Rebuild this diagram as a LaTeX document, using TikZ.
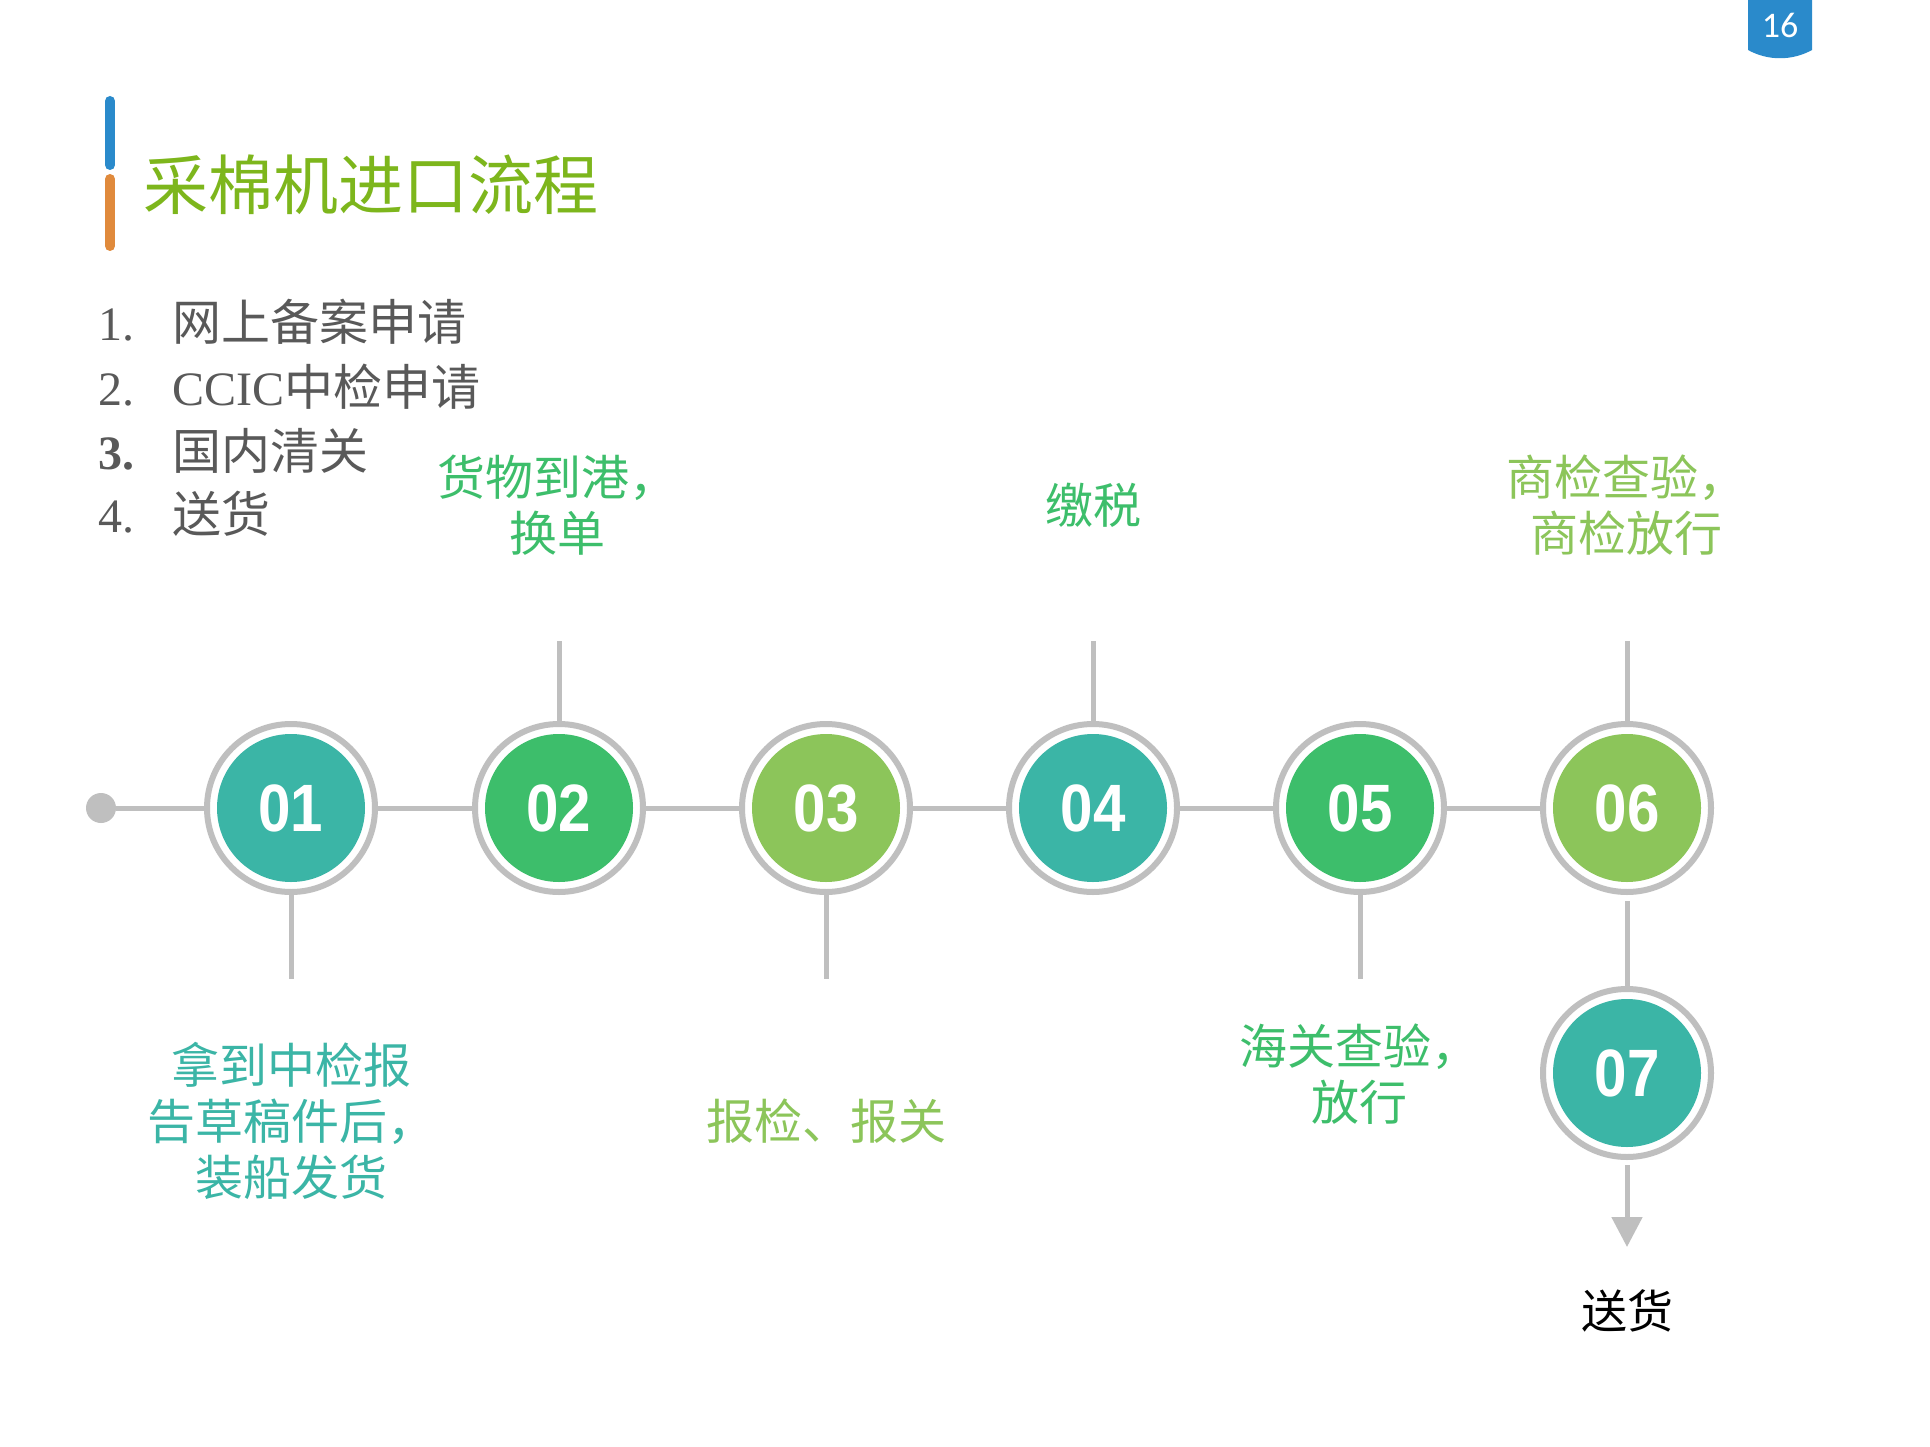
\documentclass[tikz,border=0pt]{standalone}
\usepackage{fontspec}
\setmainfont{Liberation Serif}
\newfontfamily\cjk{Noto Sans CJK SC}
\newfontfamily\numfont{Liberation Sans}
\newfontfamily\badgefont{Carlito}
\usetikzlibrary{arrows.meta}
\definecolor{cteal}{HTML}{3BB5A6}
\definecolor{cgreen}{HTML}{3DBE6B}
\definecolor{clight}{HTML}{8CC55A}
\definecolor{cgray}{HTML}{BFBFBF}
\definecolor{ctitle}{HTML}{7DB61C}
\definecolor{cblue}{HTML}{2A8ACB}
\definecolor{corange}{HTML}{E08A3C}
\definecolor{ctext}{HTML}{595959}
\tikzset{
  ring/.style={circle, draw=cgray, line width=6pt, fill=white, minimum size=168pt, inner sep=0pt},
  disc/.style={circle, fill=#1, minimum size=148pt, inner sep=0pt, text=white,
    font=\numfont\bfseries\fontsize{67}{67}\selectfont},
  conn/.style={draw=cgray, line width=5pt},
  lab/.style={font=\cjk\fontsize{48}{56}\selectfont, align=center, inner sep=0pt},
  listnum/.style={font=\fontsize{48}{48}\selectfont, text=ctext, inner sep=0pt, anchor=base west},
  listtxt/.style={font=\cjk\fontsize{49}{49}\selectfont, text=ctext, inner sep=0pt, anchor=base west}
}
\begin{document}
\begin{tikzpicture}[x=1pt,y=-1pt]
\useasboundingbox[fill=white] (0,0) rectangle (1930,1447);

% page badge
\path[fill=cblue] (1748,0) -- (1748,50) .. controls (1768,61) and (1792,61) .. (1812,50) -- (1812,0) -- cycle;
\node[text=white, font=\badgefont\fontsize{36}{36}\selectfont, inner sep=0pt] (badge) at (1780,25) {16};

% title bar
\draw[cblue, line width=10pt, line cap=round] (110,101) -- (110,165);
\draw[corange, line width=10pt, line cap=round] (110,179) -- (110,246);
\node[anchor=west, text=ctitle, font=\cjk\fontsize{65}{65}\selectfont, inner sep=0pt] (title) at (143,185) {采棉机进口流程};

% list
\node[listnum] (n1) at (98,341) {1.};
\node[listtxt] (i1) at (172,341) {网上备案申请};
\node[listnum] (n2) at (98,405) {2.};
\node[listtxt] (i2) at (172,405) {{\rmfamily\fontsize{48}{48}\selectfont CCIC}中检申请};
\node[listnum, font=\bfseries\fontsize{48}{48}\selectfont] (n3) at (98,469) {3.};
\node[listtxt] (i3) at (172,469) {国内清关};
\node[listnum] (n4) at (98,532) {4.};
\node[listtxt] (i4) at (172,532) {送货};

% timeline nodes
\node[circle, fill=cgray, minimum size=30pt, inner sep=0pt] (dot) at (101,808) {};
\node[ring] (c1) at (291,808) {};
\node[ring] (c2) at (559,808) {};
\node[ring] (c3) at (826,808) {};
\node[ring] (c4) at (1093,808) {};
\node[ring] (c5) at (1360,808) {};
\node[ring] (c6) at (1627,808) {};
\node[ring] (c7) at (1627,1073) {};

\node[disc=cteal]  (d1) at (c1) {\scalebox{0.87}[1]{01}};
\node[disc=cgreen] (d2) at (c2) {\scalebox{0.87}[1]{02}};
\node[disc=clight] (d3) at (c3) {\scalebox{0.87}[1]{03}};
\node[disc=cteal]  (d4) at (c4) {\scalebox{0.87}[1]{04}};
\node[disc=cgreen] (d5) at (c5) {\scalebox{0.87}[1]{05}};
\node[disc=clight] (d6) at (c6) {\scalebox{0.87}[1]{06}};
\node[disc=cteal]  (d7) at (c7) {\scalebox{0.87}[1]{07}};

% connectors
\draw[conn] (dot) -- (c1);
\draw[conn] (c1) -- (c2);
\draw[conn] (c2) -- (c3);
\draw[conn] (c3) -- (c4);
\draw[conn] (c4) -- (c5);
\draw[conn] (c5) -- (c6);
\draw[conn, shorten <=6pt] (c6) -- (c7);

\coordinate (t1) at (291,979);
\coordinate (t2) at (559,641);
\coordinate (t3) at (826,979);
\coordinate (t4) at (1093,641);
\coordinate (t5) at (1360,979);
\coordinate (t6) at (1627,641);
\coordinate (tend) at (1627,1247);
\draw[conn] (c1) -- (t1);
\draw[conn] (c2) -- (t2);
\draw[conn] (c3) -- (t3);
\draw[conn] (c4) -- (t4);
\draw[conn] (c5) -- (t5);
\draw[conn] (c6) -- (t6);
\draw[conn, shorten <=5pt, -{Triangle[width=30pt,length=30pt]}] (c7) -- (tend);

% labels
\node[lab, text=cteal]  (l1) at (291,1121) {拿到中检报\\告草稿件后，\\装船发货};
\node[lab, text=cgreen] (l2) at (557,505) {货物到港，\\换单};
\node[lab, text=clight] (l3) at (826,1121) {报检、报关};
\node[lab, text=cgreen] (l4) at (1093,505) {缴税};
\node[lab, text=cgreen] (l5) at (1359,1074) {海关查验，\\放行};
\node[lab, text=clight] (l6) at (1626,505) {商检查验，\\商检放行};
\node[font=\cjk\fontsize{46}{46}\selectfont, text=black, inner sep=0pt] (deliver) at (1627,1311) {送货};
\end{tikzpicture}
\end{document}
